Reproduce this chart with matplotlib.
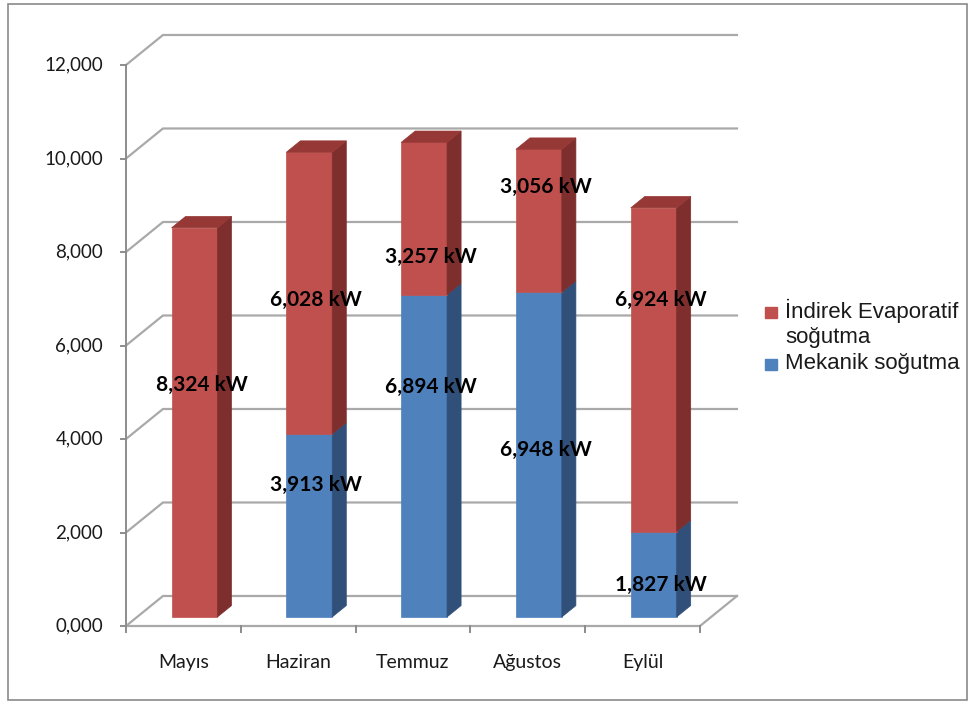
import matplotlib.pyplot as plt
from matplotlib.patches import Polygon, Rectangle

months = ["Mayıs", "Haziran", "Temmuz", "Ağustos", "Eylül"]
mekanik = [0, 3913, 6894, 6948, 1827]
indirek = [8324, 6028, 3257, 3056, 6924]
# heights where the value labels sit (value units)
lbl_mek = [None, 3020, 5110, 3765, 877]
lbl_ind = [5150, 6970, 7890, 9390, 6973]
yticks = list(range(0, 12001, 2000))

RED = ("#c0504d", "#7e2f2d", "#963835")
BLUE = ("#4f81bd", "#30507a", "#3b6394")
GRID = "#a9a9a9"

# depth offset of the back wall, in data units
DX, DY = 0.322, 642.0
W = 0.2
D0, D1 = 0.3, 0.68


def P(x, y, d):
    return (x + d * DX, y + d * DY)


fig = plt.figure(figsize=(9.76, 7.04), dpi=100)
fig.patch.set_facecolor("white")
fig.patches.append(Rectangle((8 / 976, 4 / 704), 959 / 976, 696 / 704,
                             transform=fig.transFigure, fill=False,
                             edgecolor="#8a8a8a", linewidth=1.2))

ax = fig.add_axes([126 / 976, 78 / 704, 574 / 976, 561 / 704])
ax.set_xlim(-0.5, 4.5)
ax.set_ylim(0, 12000)
ax.axis("off")

# walls: side wall diagonals + back wall gridlines
for v in yticks:
    pts = [P(-0.5, v, 0), P(-0.5, v, 1), P(4.5, v, 1)]
    ax.plot([p[0] for p in pts], [p[1] for p in pts], color=GRID,
            lw=1.6, clip_on=False, zorder=1)

# floor front and right edges
floor = [P(-0.5, 0, 0), P(4.5, 0, 0), P(4.5, 0, 1)]
ax.plot([p[0] for p in floor], [p[1] for p in floor], color=GRID,
        lw=1.6, clip_on=False, zorder=1)

# y axis with ticks and labels
ax.plot([-0.5, -0.5], [0, 12000], color="#8c8c8c", lw=1.4, clip_on=False, zorder=2)
for v in yticks:
    ax.plot([-0.545, -0.5], [v, v], color="#8c8c8c", lw=1.4, clip_on=False)
    ax.text(-0.7, v, f"{v // 1000},{v % 1000:03d}", ha="right", va="center",
            fontsize=13.5, family="Lato", color="#1a1a1a")

# category ticks and labels
for k in range(6):
    ax.plot([k - 0.5, k - 0.5], [0, -130], color="#8c8c8c", lw=1.4, clip_on=False)
for i, m in enumerate(months):
    ax.text(i, -780, m, ha="center", va="center", fontsize=14,
            family="Lato", color="#1a1a1a")


def draw_box(c, y0, y1, cols, top):
    front, side, cap = cols
    faces = [
        ([P(c - W, y0, D0), P(c + W, y0, D0), P(c + W, y1, D0), P(c - W, y1, D0)], front),
        ([P(c + W, y0, D0), P(c + W, y0, D1), P(c + W, y1, D1), P(c + W, y1, D0)], side),
    ]
    if top:
        faces.append(([P(c - W, y1, D0), P(c + W, y1, D0), P(c + W, y1, D1),
                       P(c - W, y1, D1)], cap))
    for pts, col in faces:
        ax.add_patch(Polygon(pts, closed=True, facecolor=col, edgecolor=col,
                             lw=0.5, clip_on=False, zorder=3))


for i in range(len(months)):
    if mekanik[i] > 0:
        draw_box(i, 0, mekanik[i], BLUE, False)
    draw_box(i, mekanik[i], mekanik[i] + indirek[i], RED, True)

xm = 0.5 * (D0 + D1) * DX
for i in range(len(months)):
    if mekanik[i] > 0:
        ax.text(i + xm, lbl_mek[i], f"{mekanik[i]:,} kW", ha="center", va="center",
                fontsize=15, fontweight="bold", family="Lato", color="black", zorder=5)
    ax.text(i + xm, lbl_ind[i], f"{indirek[i]:,} kW", ha="center", va="center",
            fontsize=15, fontweight="bold", family="Lato", color="black", zorder=5)

# legend
fig.patches.append(Rectangle((765 / 976, 1 - 318 / 704), 12 / 976, 11 / 704,
                             transform=fig.transFigure, color=RED[0]))
fig.patches.append(Rectangle((765 / 976, 1 - 370 / 704), 12 / 976, 11 / 704,
                             transform=fig.transFigure, color=BLUE[0]))
for txt, yp in [("İndirek Evaporatif", 311), ("soğutma", 338), ("Mekanik soğutma", 364)]:
    fig.text(785 / 976, 1 - yp / 704, txt, ha="left", va="center",
             fontsize=16, family="Liberation Sans", color="#1a1a1a")

fig.savefig("out.png", dpi=100)
